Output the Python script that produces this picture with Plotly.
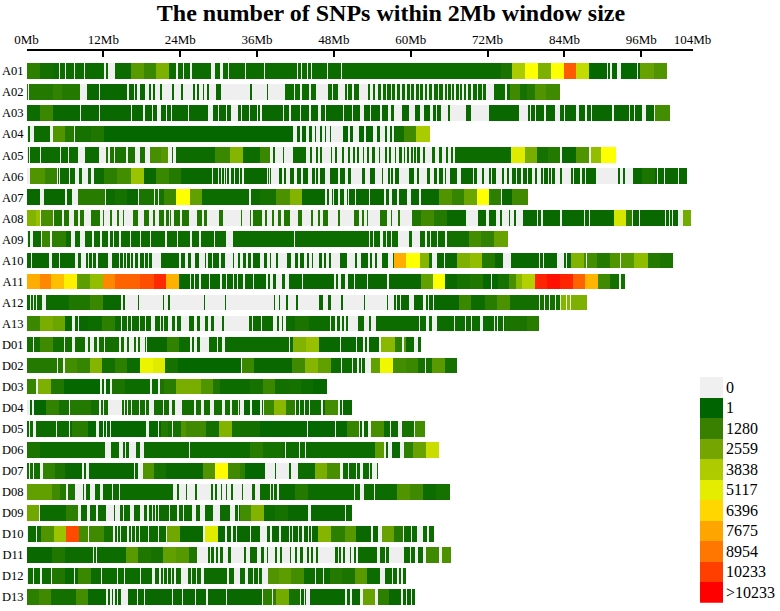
import plotly.graph_objects as go

TITLE = "The number of SNPs within 2Mb window size"
CHROMS = ["A01","A02","A03","A04","A05","A06","A07","A08","A09","A10","A11","A12","A13",
          "D01","D02","D03","D04","D05","D06","D07","D08","D09","D10","D11","D12","D13"]
LENGTHS = [100.0,83.3,100.4,62.9,91.9,103.1,78.3,103.7,75.1,100.9,93.4,87.5,79.9,
           61.5,67.2,46.8,50.7,62.1,64.4,54.8,66.0,50.7,63.5,66.2,59.2,60.6]
TICK_MB = [0,12,24,36,48,60,72,84,96,104]
LEGEND_LABELS = ["0","1","1280","2559","3838","5117","6396","7675","8954","10233",">10233"]
LEGEND_COLORS = ["#f0f0f0","#006400","#3a8000","#74a500","#aecb00","#e4ed00","#ffd700","#ffa500","#ff7700","#ff3f00","#ff0000"]

# Runs: (start Mb, SNP count) - each run lasts until the next one; Gaps: (start Mb, end Mb) with zero SNPs
A01_RUNS = [(0,1000),(2,400),(4,300),(16.2,2000),(18.2,1300),(20.1,2800),(22.1,300),(74,600),(75.8,3800),(77.8,5700),(79.8,2800),(81.8,5700),(83.8,9700),(85.8,4400),(87.8,100),(95.8,2300),(97.9,1800)]
A01_GAPS = [(4.95,5.2),(6.0,6.15),(7.35,7.5),(8.85,9.0),(9.3,9.4),(12.1,12.3),(12.65,13.75),(23.3,23.6),(24.4,24.55),(25.4,25.8),(28.8,29.4),(30.2,30.6),(31.35,31.5),(34.1,34.25),(37.0,37.2),(42.2,42.35),(42.8,43.0),(43.7,43.85),(44.3,44.45),(46.8,46.95),(49.05,49.2),(90.6,90.75),(91.1,91.35),(92.15,92.8),(95.3,95.45)]
A02_RUNS = [(0,800),(4,1100),(5.5,800),(9,200),(40,300),(75.4,1400),(77,500),(78,800),(79.3,1800),(81.1,1400)]
A02_GAPS = [(0.2,0.3),(8.2,9.3),(11.3,11.35),(15.6,15.85),(16.7,16.9),(17.2,17.6),(18.5,19),(19.4,19.6),(20.05,20.7),(21.1,22.65),(22.9,24.1),(24.4,25.95),(26.2,26.55),(26.9,27.45),(27.7,28.1),(28.4,29.5),(30.3,34.8),(35.2,37.4),(37.6,40.35),(41.65,41.8),(42.7,43),(44.1,44.35),(45.2,47),(47.65,47.75),(48.6,49.7),(50,50.1),(50.7,51.1),(51.8,53.3),(53.6,54.0),(54.3,54.8),(55.3,55.6),(56.0,56.2),(56.8,57.0),(57.4,57.7),(58.2,58.5),(59.1,59.3),(59.8,60.0),(60.4,60.7),(61.2,61.4),(61.9,62.1),(62.5,62.7),(63.2,63.5),(64.2,64.4),(65.0,65.3),(65.6,65.8),(66.2,66.4),(66.7,67.0),(67.4,67.6),(68.0,68.3),(68.6,68.8),(69.4,69.6),(70.2,70.4),(71.0,71.2),(71.7,72.9),(74.7,74.9)]
A03_RUNS = [(0,300),(2,1300),(4,200),(98.1,1500)]
A03_GAPS = [(8.3,8.4),(11.3,11.4),(12.75,12.85),(16.3,16.4),(18.1,18.5),(19.5,19.7),(20.3,21.0),(21.7,21.9),(22.1,22.2),(22.5,22.6),(23.4,23.5),(25.2,25.3),(28.2,29.0),(29.3,29.4),(29.9,30),(30.4,30.5),(31,31.25),(31.9,32.9),(33.4,33.6),(34.6,34.8),(35.9,36),(36.45,36.7),(39.9,40.1),(40.85,41.3),(42.6,42.85),(44.1,44.35),(45.4,45.9),(46.6,46.7),(48.2,48.3),(49.4,49.5),(50.8,50.9),(52,52.7),(53.6,53.7),(55.1,55.45),(56.4,56.9),(57.3,58.6),(59.7,60.6),(61.3,62),(63,63.35),(63.8,64.1),(64.6,65.7),(66,68.6),(69.3,72.2),(76.9,78.2),(78.6,78.7),(79.1,79.2),(79.4,79.5),(80.8,81.05),(82.5,83.2),(83.85,83.95),(85.8,86.2),(87.2,87.4),(88.1,88.3),(91.4,91.6),(94,94.1),(94.8,94.9),(96.1,96.6),(97.9,98.1)]
A04_RUNS = [(0,300),(4.05,1800),(6,800),(7.4,500),(10,700),(12,100),(57.4,400),(58.9,1400),(60.7,3800)]
A04_GAPS = [(0,0.15),(0.3,0.35),(0.5,1.1),(3.55,4.05),(7.3,7.5),(41.6,42.1),(42.6,43.0),(43.5,44.0),(44.5,45.0),(45.2,45.8),(46.1,46.6),(46.75,47.3),(47.5,49.35),(50.2,50.5),(50.85,51.9),(52.6,53.0),(54.1,54.7),(55.1,55.9),(56.2,56.7),(57.0,57.3)]
A05_RUNS = [(0,300),(12,600),(19.2,1600),(21,1900),(22,300),(29.4,1300),(31.7,3000),(33.7,300),(36.4,1300),(38,300),(75.6,5000),(77.7,2700),(79.7,500),(81.4,800),(83.5,200),(85.7,1800),(88.1,3300),(89.7,5700)]
A05_GAPS = [(0,0.1),(0.3,0.5),(2,2.2),(5.1,5.3),(6.35,6.5),(8,9.1),(11.3,12.35),(12.6,13),(13.6,13.75),(15.5,15.75),(16.9,17.6),(18.45,19.15),(22,22.6),(22.85,23.3),(38.0,38.35),(38.8,39.9),(40.1,41.5),(43.5,44.2),(44.5,45.2),(45.4,45.8),(46.0,47.5),(47.7,48.1),(48.4,49.2),(49.5,50.2),(50.5,50.9),(51.2,51.5),(51.8,52.4),(52.7,53.1),(53.4,53.9),(54.3,54.9),(55.2,55.9),(56.2,56.5),(56.9,57.4),(57.6,58.1),(58.5,58.8),(59.0,59.4),(59.7,60.0),(60.3,60.5),(60.8,60.95),(61.3,61.8),(62.2,63.2),(63.7,64.4),(64.8,65.4),(65.8,66.2),(66.5,66.9),(83.3,83.5),(87.75,88.1)]
A06_RUNS = [(0,1800),(2.8,1200),(4.8,300),(12,1000),(14,1500),(16.2,3500),(18.2,200),(20.1,1300),(22.1,800),(24,200),(96,600),(98,200)]
A06_GAPS = [(0,0.4),(4.7,4.85),(5.0,5.1),(6.5,6.65),(7.0,7.1),(7.5,8.1),(8.6,9.6),(9.95,10.45),(28.9,29.1),(29.9,30),(30.3,30.4),(30.8,30.9),(31.1,31.2),(31.5,31.9),(32.4,32.5),(33.1,33.2),(33.5,33.9),(37.4,37.6),(37.8,38.0),(38.1,39.4),(39.8,40.15),(40.5,41.1),(41.65,42.15),(42.8,43.1),(43.9,44.5),(44.9,45.2),(45.4,45.7),(46.6,47.25),(48.5,48.85),(49.6,50.1),(50.6,52.3),(52.85,53.5),(54.4,55.45),(55.65,56.35),(56.65,56.85),(57.15,57.4),(58.05,59.7),(60.5,60.9),(61.2,62.5),(63,63.6),(64.05,64.3),(65,65.2),(65.5,66.1),(67.2,67.8),(69.65,69.8),(70.3,71.1),(71.35,72.1),(72.4,72.65),(73.3,74.2),(74.55,74.9),(75.25,75.75),(76.3,76.5),(77.2,77.5),(78,78.2),(78.9,79.4),(79.7,80.2),(80.6,80.7),(81,81.1),(81.4,81.5),(81.9,82),(82.5,83.3),(83.5,84.9),(85.3,85.4),(85.7,85.8),(86.4,86.6),(87.2,87.3),(88.8,92.3),(92.6,93.1),(93.4,94.6),(98.4,98.5),(99.5,99.6),(101.7,101.8),(102.7,102.8)]
A07_RUNS = [(0,200),(8,900),(12.3,300),(13.8,500),(15.6,200),(17.4,600),(19.8,500),(21.4,1300),(23.3,5700),(25.4,2200),(27.4,300),(36.44,500),(38.9,1700),(41,2900),(43,200),(64.4,1800),(66.4,1200),(68.3,2400),(70.3,5700),(72.2,1000),(74.2,200),(75.8,1400)]
A07_GAPS = [(2.1,2.7),(6,6.25),(7,7.9),(12.15,12.35),(17.4,17.5),(19.9,20.05),(20.5,20.6),(34.6,34.95),(46.6,46.85),(47.1,47.55),(47.75,48),(48.5,48.8),(49.45,49.9),(50.2,50.35),(51.2,51.4),(53.4,53.6),(55.8,56.1),(56.5,57),(57.8,58.05),(59.35,60),(61.2,61.6),(73.95,74.1),(75.7,75.8)]
A08_RUNS = [(0,2900),(1.4,3400),(2,1600),(4.1,700),(61.6,1400),(63.6,800),(65.6,200),(91.6,4800),(93.5,1000),(94.5,200),(102.5,2600)]
A08_GAPS = [(2,2.2),(4.05,4.15),(5.5,5.85),(6.5,7.4),(7.9,8.35),(8.95,10),(11.35,11.9),(12.05,12.9),(13.2,14.05),(14.3,15),(15.2,16.5),(17.3,18.3),(19,19.7),(20.05,20.6),(21.35,21.7),(22.15,22.4),(22.55,22.9),(23.95,24.2),(25.25,26.55),(27.35,27.6),(28.1,29.95),(30.6,33.4),(33.5,34.8),(35,35.3),(36.7,37.2),(37.5,38.25),(38.5,39.15),(39.65,40.2),(41.1,42.3),(42.9,44.4),(44.65,45.45),(45.7,46.2),(47,48.5),(48.8,51.1),(51.8,52.3),(52.65,53.1),(53.3,55.2),(56.2,56.8),(57,57.9),(58.2,60.1),(68.5,70.4),(71.6,72.1),(73.3,73.8),(74.2,75.25),(75.4,76),(76.3,77.5),(79.6,79.75),(80.2,80.6),(81,81.1),(83.3,83.6),(87.0,87.1),(87.7,87.85),(94.5,94.7),(95.55,95.8),(99.7,99.8),(100.2,100.35),(100.75,100.9),(101.3,101.4),(101.65,102.5)]
A09_RUNS = [(0,300),(2.4,1300),(3.9,1000),(6.1,300),(65.6,400),(69,1500),(70.9,1100),(72.9,2300)]
A09_GAPS = [(0,0.15),(0.5,0.9),(2.2,2.35),(3.65,3.9),(6.8,7.55),(8.2,9.1),(10.15,10.4),(11.35,11.7),(12.65,13),(13.5,13.55),(14.4,14.6),(16.15,16.3),(17.7,17.85),(19.15,19.4),(21.6,21.9),(23.4,23.6),(25.5,25.7),(26.9,27.1),(29.15,29.3),(31.1,32.1),(41.75,41.85),(53.4,53.6),(54,54.2),(55.2,55.6),(56,56.15),(56.9,57),(57.9,59.7),(60.1,61.35),(62.2,62.4),(63,63.1),(63.5,63.6),(64.1,64.2),(65.3,65.6)]
A10_RUNS = [(0,200),(57.3,7700),(59.25,5700),(61.3,3000),(62.75,400),(64,200),(67.15,2800),(69.1,3300),(71.1,800),(73.1,200),(85,2900),(87,1500),(89,800),(91,1800),(92.7,1900),(94.8,3200),(96.9,800),(98.8,600)]
A10_GAPS = [(0.65,0.85),(3.4,3.85),(4.95,5.1),(7.55,7.9),(8.5,9.25),(9.5,9.75),(10.15,10.3),(10.7,11.1),(12.7,13.2),(14.3,14.5),(15,15.1),(15.5,15.6),(16.1,16.2),(16.6,16.8),(17.4,17.7),(18.3,18.4),(18.9,19),(19.55,20.9),(22.6,22.7),(23.2,23.3),(23.8,24),(24.6,25.2),(25.6,26.3),(26.85,27.8),(28,28.3),(28.9,29.1),(30,30.3),(30.9,32.1),(32.35,33),(33.3,33.8),(34.25,34.5),(35,35.3),(36,36.1),(36.45,37),(37.5,37.9),(38.1,38.95),(39.15,40.6),(41.3,41.9),(42.3,42.7),(43.2,43.7),(44,44.5),(44.65,45.55),(46,46.45),(46.7,47.1),(47.4,47.9),(48,48.8),(49.9,51.2),(51.55,52.2),(53.2,53.5),(53.8,54.4),(54.65,55.45),(56.4,57.1),(63.3,64),(65.1,65.35),(74.3,75.6),(80,80.15),(80.55,80.75),(82.7,83),(83.05,83.85),(84.2,84.4),(87.3,87.4),(92.6,92.7)]
A11_RUNS = [(0,7700),(2,8600),(3.8,7300),(5.8,6100),(7.8,2100),(9.8,3300),(11.8,8600),(13.8,9500),(17.7,10000),(19.8,10900),(21.7,7600),(23.7,200),(61.45,2200),(63.4,5700),(65.35,200),(67.2,500),(69.2,700),(71.2,100),(73.5,500),(75.2,1600),(76.3,3100),(77.3,4000),(79.3,11000),(81.25,11500),(83.3,11000),(85.2,9500),(87.2,7500),(89.2,1400),(91.1,400)]
A11_GAPS = [(24.0,24.1),(24.6,24.7),(25.4,25.55),(26.1,26.3),(26.9,27.2),(27.6,27.7),(28.4,28.6),(29.3,29.4),(30.2,30.4),(31.1,31.3),(32.1,32.3),(32.8,32.95),(33.8,34.1),(35.3,35.5),(37.3,37.65),(37.9,38.4),(38.95,39.8),(40.35,40.85),(42.95,43.05),(45.55,45.65),(47.9,48.3),(48.5,49.1),(49.7,50.2),(51,51.25),(53.1,53.2),(56.2,56.5),(72.4,72.55),(74.1,74.2),(92.4,92.7)]
A12_RUNS = [(0,300),(6.5,700),(9.9,1300),(11.9,200),(60.5,200),(67.5,1300),(69.35,300),(71.45,900),(73.4,1700),(75.5,400),(83.4,3000),(85,2800)]
A12_GAPS = [(0.5,0.6),(1,1.1),(1.4,1.5),(2.3,3),(3.4,3.5),(6.5,6.6),(14.75,15),(15.25,17.3),(17.5,21.2),(21.4,22),(22.3,27.6),(27.75,30.9),(31.15,38.5),(38.7,39.3),(39.55,40.5),(40.75,42.05),(42.3,45.55),(46.2,47),(47.5,49.1),(49.35,52.6),(52.85,56.2),(56.4,57.35),(57.6,57.7),(57.9,58),(58.3,58.4),(59.7,60.5),(61.9,62.3),(62.6,62.7),(63.4,63.5),(80,80.15),(80.7,80.85),(81.5,81.65),(82.4,82.55),(83.2,83.4),(84.2,84.35),(84.75,84.9)]
A13_RUNS = [(0,1300),(2,2700),(4,2400),(6,200),(9.6,300),(11.7,1000),(13.7,300),(41.9,600),(44,300),(74.6,600),(78,900)]
A13_GAPS = [(6.95,7.55),(8,8.1),(9.65,9.75),(14.7,14.85),(15.6,15.8),(16.3,16.4),(16.8,16.9),(17.45,17.7),(18.35,18.6),(19.4,20),(20.7,20.95),(21.2,21.4),(22,22.3),(22.4,22.7),(23.1,23.4),(24,25.25),(26,26.55),(27,27.85),(28.3,28.7),(29.2,30.5),(30.7,34.6),(35.15,35.3),(36.55,36.7),(38.45,39.05),(39.3,39.75),(40,40.45),(47.3,47.5),(48.15,48.4),(48.95,49.2),(49.5,49.75),(50.1,51.65),(52.6,53.4),(53.65,54.45),(61.2,61.3),(62.25,62.75),(63.3,64.05),(64.9,65),(66.7,66.85),(68.4,68.5),(69.4,69.5),(70.7,71.2),(72.9,73.05),(73.4,73.55),(74.35,74.55)]
D01_RUNS = [(0,400),(2.1,1400),(4.1,400),(18.8,200),(21.9,1100),(23.8,300),(41.5,2900),(43.5,3400),(45.6,200),(55.3,3100),(57.4,1000),(58.6,2000),(59.2,300)]
D01_GAPS = [(0.9,1.1),(5.75,6),(6.95,7.5),(9.1,9.5),(9.9,10.4),(11,11.3),(12.1,12.25),(14.3,14.7),(15.2,15.6),(16,16.65),(17,17.3),(17.7,18.35),(18.6,18.75),(25.4,25.75),(26.1,26.6),(27,28.45),(29,29.1),(29.7,29.85),(30.45,30.85),(40.9,41.05),(48.95,49.1),(51.45,51.6),(52.5,52.75),(53.05,53.4),(54.95,55.3),(58.6,58.85),(60.5,61.05)]
D02_RUNS = [(0,800),(6,1500),(7.8,1200),(9.8,3000),(11.7,400),(13.8,1000),(15.6,300),(17.7,5300),(19.7,5000),(21.6,500),(23.6,100),(33.6,1300),(35.4,200),(41.4,1400),(43.4,3000),(45.4,2200),(47.4,300),(53.65,2200),(55.2,5400),(57.2,1500),(59.2,1300),(61.1,500),(63.3,2000),(65.2,500)]
D02_GAPS = [(4.15,4.25),(4.7,4.8),(5.6,6),(33.4,33.5),(49.1,49.2),(50.8,50.95),(51.55,51.8),(52.2,52.3),(52.85,53.65),(62.1,62.35)]
D03_RUNS = [(0,1200),(1.7,2800),(3.7,700),(5.7,100),(12.9,600),(15.3,300),(20.7,600),(21.4,900),(23.2,2700),(27.1,1800),(29.05,700),(30.2,300),(34.9,500),(36.8,1300),(38.8,400),(40.9,500),(42.8,300),(44.7,100)]
D03_GAPS = [(1.45,1.7),(11.45,11.75),(12.1,12.4),(13.0,13.25),(19.15,19.5),(20.45,20.7)]
D04_RUNS = [(0,100),(2.9,1100),(5,500),(6.7,800),(10,400),(33.3,100),(37,1300),(38.5,3100),(40.5,1000),(42,300),(46.6,1500),(48.6,200)]
D04_GAPS = [(0,0.5),(0.8,1.15),(4.95,5.05),(6.6,6.7),(11.3,11.5),(11.9,12.05),(12.65,13.55),(13.55,14.85),(15.2,15.3),(15.6,15.8),(16.3,16.4),(17.5,17.7),(18.4,18.6),(19.1,19.8),(21.2,21.4),(22.1,22.7),(23.1,24.2),(26.15,26.4),(27.1,27.6),(28.65,29.2),(30.5,30.85),(31.7,32.05),(32.9,33.1),(33.3,33.85),(34.9,35.15),(36.45,36.7),(36.85,37),(41.8,42),(42.45,42.7),(43.2,43.45),(44,44.15),(45.95,46.15),(48.55,48.95),(49.2,49.3)]
D05_RUNS = [(0,300),(7,900),(9.5,100),(21,800),(22,500),(24,1800),(24.8,1400),(28,400),(30,2900),(32,500),(33.3,400),(36.4,100),(50,1200),(51.8,200),(53.75,1600),(55.8,300),(58.5,500),(60.6,1500)]
D05_GAPS = [(0.35,0.45),(0.95,1.4),(3.05,3.15),(4.6,4.7),(6.5,6.65),(10.85,11.3),(11.9,12.05),(12.4,12.55),(12.9,13.05),(18.55,19.05),(20.4,20.6),(22.6,22.75),(23.9,23.95),(39.95,40.05),(43.75,43.85),(48.15,48.3),(51.8,52),(52.35,52.6),(52.9,53),(53.3,53.75),(56.75,56.9),(57.95,58.5),(60.4,60.6)]
D06_RUNS = [(0,600),(2,300),(34.9,900),(36.9,500),(40,300),(54.4,2100),(55.7,200),(58.8,1000),(60.25,2300),(62.3,4500)]
D06_GAPS = [(12.25,13.15),(14.3,14.95),(15.35,15.45),(15.9,17.05),(17.7,18.2),(25.25,25.5),(40.25,40.45),(42.45,42.6),(43.4,43.6),(55.7,56.1),(56.35,57),(58.3,58.85)]
D07_RUNS = [(0,400),(2.5,1100),(4.3,600),(6,200),(18.1,1800),(19.8,500),(21.7,200),(27.5,1800),(29.4,5800),(31.4,1400),(33.3,1000),(34.1,100),(42.3,300),(44.9,2700),(46.9,1600),(48.95,300)]
D07_GAPS = [(0.3,0.4),(0.95,1.05),(2.1,2.5),(8.6,8.85),(9.2,9.65),(16.75,16.9),(17.3,18.1),(33.9,33.95),(37.1,38.7),(38.95,40.9),(41.15,42.3),(48.95,49.35),(50.1,50.3),(51.3,51.55),(52,52.45),(52.9,53),(53.4,53.5),(53.8,54.6)]
D08_RUNS = [(0,2200),(3.9,1400),(5.2,800),(6.45,600),(8,300),(39.3,200),(41.8,800),(43.9,300),(57.8,1800),(59.75,1400),(61.9,300),(63.8,500)]
D08_GAPS = [(6.1,6.45),(7.55,8.75),(8.95,9.25),(9.8,10.55),(11.35,11.9),(12.6,12.7),(13.3,13.4),(14,14.05),(14.35,14.5),(22.8,23.45),(23.7,24.85),(25,26.3),(26.55,28.75),(29,29.4),(29.7,30.25),(30.5,31),(31.3,31.9),(32.1,33.6),(33.75,35.15),(35.55,36.35),(37.4,37.5),(38,38.1),(38.4,38.5),(39.05,39.3),(48.5,48.55),(51.05,51.2),(51.5,51.6),(52,52.7),(54.15,54.4)]
D09_RUNS = [(0,2500),(2,300),(6.1,1000),(8,300),(33.3,1500),(35,2900),(37,300),(38.8,500),(40.8,200)]
D09_GAPS = [(1.95,2.05),(7.9,8.5),(9.35,9.9),(10.7,11.1),(12.3,13.55),(13.8,14.5),(15,15.1),(16.05,16.65),(17.7,18.2),(18.7,19.1),(19.5,19.7),(20,20.1),(20.5,20.6),(22.2,22.4),(23.5,23.8),(24.4,24.5),(25.8,26.35),(26.95,27.75),(28.2,28.3),(29,30.2),(31.65,32.5),(33,33.1),(43.5,43.6),(43.85,44.35),(49.6,49.75)]
D10_RUNS = [(0,300),(2.25,1800),(4.15,3500),(6.1,10100),(8.05,1500),(9.65,1400),(12.1,500),(13.45,300),(21.9,2500),(23.95,200),(27.85,5000),(29.8,200),(45.4,3000),(47.5,1000),(49.6,1900),(51.45,200),(55.4,2300),(57.3,800),(58.7,300)]
D10_GAPS = [(0,0.15),(1.35,1.5),(9.5,9.65),(13.5,13.75),(14,14.15),(14.55,14.65),(15.1,15.2),(15.65,15.85),(16.3,16.4),(16.85,17),(17.5,17.65),(18.9,19),(20.4,20.65),(21.7,21.85),(23.85,23.95),(27.5,27.85),(30.85,31.25),(31.9,32.1),(32.6,32.8),(34.8,35.05),(36.35,37.4),(38,38.3),(39.3,39.6),(40.4,40.5),(40.9,41),(41.4,41.5),(42.3,42.45),(42.95,43.3),(43.9,44),(44.4,44.45),(44.9,44.95),(53.65,54),(54.8,55.4),(58.7,58.85),(59.9,60.05),(60.95,61.8),(62.5,62.85)]
D11_RUNS = [(0,200),(3.9,700),(6,300),(15.4,2000),(17.4,700),(19.4,500),(21.3,2200),(23.3,1900),(25.3,700),(26.5,300),(62.25,1400),(64.75,1700)]
D11_GAPS = [(1.8,1.85),(5.1,5.15),(10.3,10.4),(10.8,10.95),(26.55,28.2),(28.5,28.8),(29.2,29.5),(29.9,30.2),(30.6,31.4),(31.8,33.85),(34.25,34.9),(35.85,36.55),(37,37.5),(37.7,38.8),(39.05,39.45),(39.8,41),(41.3,41.9),(42.2,42.7),(43.05,43.75),(44,44.4),(44.7,45.2),(45.45,48.15),(48.6,48.7),(49.1,49.35),(49.65,50.4),(50.65,51),(51.3,51.65),(54.7,55.05),(55.9,56.1),(56.6,58.85),(59.3,59.4),(59.8,59.9),(60.65,61.1),(61.8,62.25),(64.3,64.75)]
D12_RUNS = [(0,300),(3.9,700),(6,200),(8,1300),(10,300),(37.65,1800),(39.4,2100),(41.3,1500),(43.2,300),(47.3,800),(49.2,600),(51.15,2000),(53.1,300)]
D12_GAPS = [(0,0.15),(0.9,1.15),(2.1,2.3),(3.75,3.9),(7.4,7.55),(10.3,10.35),(11.6,11.7),(14.1,14.2),(15.2,15.3),(17.7,17.75),(19.5,20),(20.65,20.85),(21.3,21.4),(21.85,22),(22.5,22.6),(23,23.2),(24.1,25.1),(25.55,25.8),(26.35,26.5),(27.1,27.6),(28.2,28.3),(31.3,31.5),(32.4,33.3),(33.5,33.6),(33.85,33.95),(34.1,34.5),(35.25,35.5),(36.1,36.2),(36.7,37.65),(45,45.1),(45.4,45.5),(46.2,46.4),(55.2,55.9),(57.05,57.2),(57.8,58.05),(58.45,58.7),(59,59.05)]
D13_RUNS = [(0,1000),(1.8,1400),(3.8,400),(7.7,1500),(9.6,200),(36.9,1000),(38.9,2600),(40.9,500),(42.8,200),(52.4,2300),(54.4,200),(54.8,1000),(56.6,200)]
D13_GAPS = [(8.85,8.95),(12.4,12.65),(12.9,13.2),(13.5,13.75),(14.1,14.2),(14.7,15.75),(17.1,17.3),(18.3,18.4),(22.7,22.85),(24.2,24.35),(26.3,26.4),(28,28.2),(29.8,29.9),(31.1,31.2),(36.7,36.9),(38.3,38.4),(42.1,42.2),(42.6,42.8),(43.3,43.4),(43.6,44.2),(49.6,50),(50.4,50.8),(51.2,51.25),(51.65,51.75),(52,52.4),(54.4,54.8),(58.35,58.75),(59.2,59.4),(60,60.1)]

GREY = "rgba(240,240,240,0.995)"
SERIF = "Liberation Serif, Times New Roman, serif"
seg_y, seg_base, seg_w, seg_c = [], [], [], []
gap_y, gap_base, gap_w = [], [], []
for name, length in zip(CHROMS, LENGTHS):
    runs = globals()[f"{name}_RUNS"]
    for i, (start, count) in enumerate(runs):
        end = runs[i + 1][0] if i + 1 < len(runs) else length
        seg_y.append(name); seg_base.append(start); seg_w.append(end - start); seg_c.append(count)
    for a, b in globals()[f"{name}_GAPS"]:
        gap_y.append(name); gap_base.append(a); gap_w.append(b - a)

fig = go.Figure()
bar_kw = dict(orientation="h", width=0.745, hoverinfo="skip", showlegend=False)
fig.add_bar(y=seg_y, x=seg_w, base=seg_base,
            marker=dict(color=seg_c, cmin=0, cmax=11900, line_width=0,
                        colorscale=[[0, "#006400"], [0.48, "#ffff00"], [1, "#ff0000"]]), **bar_kw)
fig.add_bar(y=gap_y, x=gap_w, base=gap_base, marker=dict(color=GREY, line_width=0), **bar_kw)
fig.add_bar(y=LEGEND_LABELS, x=[1] * len(LEGEND_LABELS), xaxis="x2", yaxis="y2", width=1,
            orientation="h", hoverinfo="skip", showlegend=False,
            marker=dict(color=LEGEND_COLORS, line_width=0))

W, H = 780, 611
fig.update_layout(
    width=W, height=H, margin=dict(l=0, r=0, t=0, b=0, autoexpand=False), barmode="overlay", bargap=0,
    paper_bgcolor="white", plot_bgcolor="white", template="none",
    font=dict(family=SERIF, color="black"),
    title=dict(text=f"<b>{TITLE}</b>", x=391 / W, xanchor="center", y=1 - 13 / H, yanchor="middle",
               font=dict(size=24, family=SERIF, color="black"), automargin=False),
    xaxis=dict(domain=[26.5 / W, 692.5 / W], range=[0, 104], side="top", anchor="y", automargin=False,
               tickvals=TICK_MB, ticktext=[f"{v}Mb" for v in TICK_MB],
               tickfont=dict(size=13), ticks="inside", ticklen=6, tickwidth=1.5, tickcolor="black",
               showline=True, linecolor="black", linewidth=2, showgrid=False, zeroline=False),
    yaxis=dict(domain=[1 - 608.6 / H, 1 - 51 / H], range=[25.55, -0.95], type="category", automargin=False,
               categoryorder="array", categoryarray=CHROMS, tickfont=dict(size=12.5),
               showline=False, showgrid=False, zeroline=False, ticks="", ticklabelstandoff=2),
    xaxis2=dict(domain=[700 / W, 723 / W], range=[0, 1], anchor="y2", visible=False, automargin=False),
    yaxis2=dict(domain=[1 - 602.7 / H, 1 - 376.7 / H], anchor="x2", side="right", type="category",
                categoryorder="array", categoryarray=LEGEND_LABELS, autorange="reversed", automargin=False,
                tickfont=dict(size=16), showline=False, showgrid=False, zeroline=False, ticks="",
                ticklabelstandoff=2),
)
fig.write_html("out.html", config=dict(displayModeBar=False),
               post_script="document.body.style.margin='0';document.documentElement.style.overflow='hidden';")
